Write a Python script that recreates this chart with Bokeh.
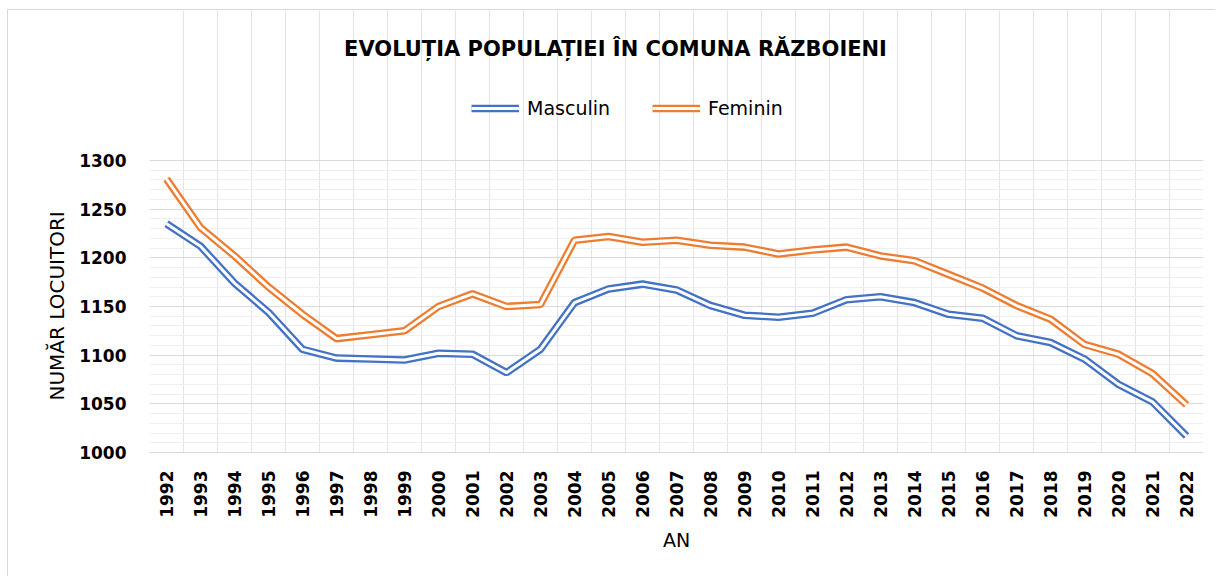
from bokeh.plotting import figure
from bokeh.models import (Range1d, FixedTicker, Legend, LegendItem, Label, Title,
                          BasicTickFormatter)
from bokeh.embed import file_html
from bokeh.resources import INLINE
import math

# ---- data ----
years = list(range(1992, 2023))
masculin = [1235, 1212, 1174, 1144, 1106, 1097, 1096, 1095, 1102, 1101, 1082,
            1106, 1154, 1168, 1173, 1167, 1151, 1141, 1139, 1143, 1157, 1160,
            1154, 1142, 1138, 1120, 1113, 1096, 1070, 1052, 1017]
feminin = [1281, 1231, 1202, 1170, 1142, 1117, 1121, 1125, 1150, 1163, 1150,
           1152, 1218, 1222, 1216, 1218, 1213, 1211, 1204, 1208, 1211, 1202,
           1197, 1183, 1169, 1151, 1137, 1111, 1101, 1081, 1049]
series_names = ["Masculin", "Feminin"]
colors = ["#4472C4", "#ED7D31"]
title_text = "EVOLUȚIA POPULAȚIEI ÎN COMUNA RĂZBOIENI"
x_label = "AN"
y_label = "NUMĂR LOCUITORI"
y_min, y_max, y_step, y_minor = 1000, 1300, 50, 10

# ---- layout (pixels) ----
W, H = 1208, 567
MB_LEFT, MB_RIGHT, MB_BOTTOM = 141, 13, 125
PLOT_TOP = 150          # pixels from figure top to the 1300 line
PLOT_H = H - MB_BOTTOM - PLOT_TOP   # height of the data area
y_top = y_max + PLOT_TOP * (y_max - y_min) / PLOT_H   # frame extends above for title/legend

p = figure(width=W, height=H, output_backend="svg", toolbar_location=None,
           x_range=Range1d(years[0] - 0.5, years[-1] + 0.5),
           y_range=Range1d(y_min, y_top),
           min_border_left=MB_LEFT, min_border_right=MB_RIGHT,
           min_border_top=0, min_border_bottom=MB_BOTTOM)
p.outline_line_color = None
p.background_fill_color = "white"
p.border_fill_color = "white"
p.styles = {"border-left": "1px solid #d9d9d9", "border-top": "1px solid #d9d9d9",
            "margin-left": "7px", "margin-top": "9px"}

# axes
p.xaxis.ticker = FixedTicker(ticks=years)
p.xaxis.formatter = BasicTickFormatter(use_scientific=False)
p.xaxis.major_label_orientation = math.pi / 2
p.yaxis.ticker = FixedTicker(ticks=list(range(y_min, y_max + 1, y_step)),
                             minor_ticks=list(range(y_min, y_max + 1, y_minor)))
for ax in (p.xaxis, p.yaxis):
    ax.major_tick_line_color = None
    ax.minor_tick_line_color = None
    ax.major_label_text_font = "DejaVu Sans"
    ax.major_label_text_font_style = "bold"
    ax.major_label_text_font_size = "17px"
    ax.major_label_text_color = "#000000"
    ax.axis_label_text_font = "DejaVu Sans"
    ax.axis_label_text_font_style = "normal"
    ax.axis_label_text_font_size = "19px"
    ax.axis_label_text_color = "#000000"
p.xaxis.axis_line_color = "#d9d9d9"
p.yaxis.axis_line_color = None
p.xaxis.major_label_standoff = 12
p.yaxis.major_label_standoff = 17
p.xaxis.axis_label = x_label
p.xaxis.axis_label_standoff = 8

# y axis title (as side title so it can be centred on the data area)
ytitle = Title(text=y_label, align="left", offset=52, standoff=16,
               text_font="DejaVu Sans", text_font_style="normal",
               text_font_size="20px", text_color="#000000")
p.add_layout(ytitle, "left")

# grids
p.xgrid.ticker = FixedTicker(ticks=[y - 0.5 for y in years] + [years[-1] + 0.5])
p.xgrid.bounds = (y_min, y_max)
p.xgrid.grid_line_color = "#e3e3e3"
p.ygrid.grid_line_color = "#dadada"
p.ygrid.minor_grid_line_color = "#efefef"

# double lines
items = []
for name, vals, col in zip(series_names, [masculin, feminin], colors):
    r1 = p.line(years, vals, line_color=col, line_width=7.6, line_cap="butt")
    r2 = p.line(years, vals, line_color="white", line_width=3.0, line_cap="butt")
    items.append(LegendItem(label=name, renderers=[r1, r2]))

frame_h = H - MB_BOTTOM
legend = Legend(items=items, orientation="horizontal",
                location=(322, frame_h - 108.5),
                glyph_width=48, glyph_height=20, label_standoff=8, spacing=42,
                padding=0, margin=0, border_line_color=None, background_fill_alpha=0,
                label_text_font="DejaVu Sans", label_text_font_size="19px",
                label_text_color="#000000")
p.add_layout(legend, "center")

title = Label(x=466, y=frame_h - 38, x_units="screen", y_units="screen",
              text=title_text, text_align="center", text_baseline="middle",
              text_font="DejaVu Sans", text_font_style="bold", text_font_size="21px",
              text_color="#000000")
p.add_layout(title)

open("out.html", "w").write(file_html(p, INLINE))
